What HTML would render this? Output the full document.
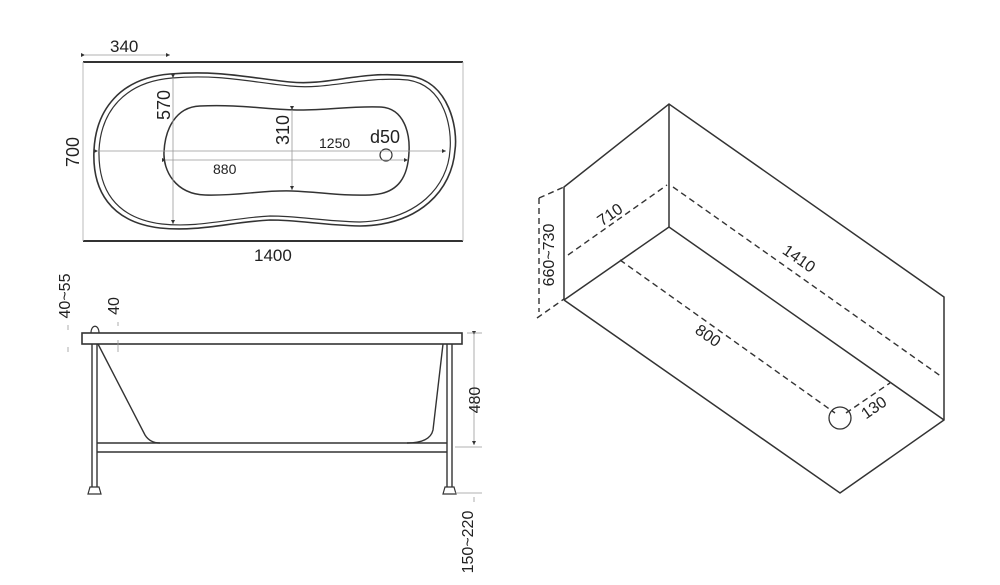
<!DOCTYPE html>
<html><head><style>
html,body{margin:0;padding:0;background:#fff;}
svg{display:block;}
text{font-family:"Liberation Sans",sans-serif;fill:#222;}
</style></head><body>
<svg width="1000" height="585" viewBox="0 0 1000 585" xmlns="http://www.w3.org/2000/svg">
<defs>
<marker id="a" markerWidth="6" markerHeight="6" refX="5" refY="3" orient="auto"><path d="M0,0.5 L5,3 L0,5.5z" fill="#333"/></marker>
</defs>
<g stroke="#333" fill="none">
<line x1="83" y1="62" x2="463" y2="62" stroke-width="2"/>
<line x1="83" y1="241" x2="463" y2="241" stroke-width="2"/>
<line x1="83" y1="62" x2="83" y2="241" stroke="#bbb"/>
<line x1="463" y1="62" x2="463" y2="241" stroke="#bbb"/>
<path d="M170,74 C220,70 250,78 290,82 C330,86 360,70 410,76 C450,82 458,130 455,150 C452,190 420,225 360,226 C320,225 300,220 270,220 C230,222 200,232 160,228 C110,222 92,190 94,150 C96,110 120,78 170,74Z" stroke-width="1.6"/>
<path d="M172,78 C220,74 250,82 290,86 C330,90 360,76 408,80 C446,86 452,130 450,150 C448,186 418,220 360,222 C320,221 300,216 270,216 C230,218 200,228 162,224 C114,218 98,188 99,150 C101,112 124,82 172,78Z" stroke-width="1.2"/>
<path d="M200,106 C240,104 270,110 300,110 C330,110 350,106 380,107 C405,108 410,135 409,152 C408,175 400,194 370,195 C340,196 320,192 292,191 C260,190 240,196 205,195 C175,194 163,170 164,152 C165,130 175,107 200,106Z" stroke-width="1.5"/>
<circle cx="386" cy="155" r="6" stroke-width="1.2"/>
<g stroke="#999" stroke-width="0.8">
<line x1="85" y1="55" x2="170" y2="55" marker-end="url(#a)" marker-start="url(#a)"/>
<line x1="173" y1="78" x2="173" y2="224" marker-end="url(#a)" marker-start="url(#a)"/>
<line x1="292" y1="110" x2="292" y2="190" marker-end="url(#a)" marker-start="url(#a)"/>
<line x1="98" y1="151" x2="446" y2="151" marker-end="url(#a)" marker-start="url(#a)"/>
<line x1="166" y1="160" x2="408" y2="160" marker-end="url(#a)" marker-start="url(#a)"/>
</g>
<rect x="82" y="333" width="380" height="11" stroke-width="1.6"/>
<path d="M91,333 C91,324 99,324 99,333" stroke-width="1.2"/>
<line x1="92" y1="344" x2="92" y2="487" stroke-width="1.4"/>
<line x1="97" y1="344" x2="97" y2="487" stroke-width="1.4"/>
<line x1="447" y1="344" x2="447" y2="487" stroke-width="1.4"/>
<line x1="452" y1="344" x2="452" y2="487" stroke-width="1.4"/>
<path d="M88,494 L90,487 L99,487 L101,494Z" stroke-width="1.2"/>
<path d="M443,494 L445,487 L454,487 L456,494Z" stroke-width="1.2"/>
<line x1="97" y1="443" x2="447" y2="443" stroke-width="1.4"/>
<line x1="97" y1="452" x2="447" y2="452" stroke-width="1.4"/>
<path d="M98,344 L145,435 Q150,443 160,443" stroke-width="1.4"/>
<path d="M443,344 L433,430 Q430,443 407,443" stroke-width="1.4"/>
<g stroke="#999" stroke-width="0.8">
<line x1="474" y1="335" x2="474" y2="445" marker-end="url(#a)" marker-start="url(#a)"/>
<line x1="467" y1="333" x2="482" y2="333"/><line x1="455" y1="447" x2="482" y2="447"/>
<line x1="455" y1="493" x2="482" y2="493"/>
<line x1="474" y1="497" x2="474" y2="502"/>
<line x1="68" y1="347" x2="68" y2="352"/>
<line x1="68" y1="325" x2="68" y2="330"/>
<line x1="118" y1="322" x2="118" y2="326"/>
<line x1="118" y1="340" x2="118" y2="352"/>
</g>
<g stroke-width="1.5">
<polyline points="564,300 564,187 669,104 944,297 944,420 840,493 564,300"/>
<line x1="669" y1="104" x2="669" y2="227"/>
<polyline points="564,300 669,227 944,420"/>
</g>
<g stroke-width="1.4" stroke-dasharray="6,4">
<line x1="539" y1="198" x2="539" y2="312"/>
<line x1="539" y1="198" x2="564" y2="187"/>
<line x1="537" y1="318" x2="564" y2="299"/>
<line x1="568" y1="255" x2="667" y2="185"/>
<line x1="673" y1="187" x2="942" y2="377"/>
<line x1="620" y1="260" x2="835" y2="413"/>
<line x1="846" y1="413" x2="890" y2="383"/>
</g>
<circle cx="840" cy="418" r="11" stroke-width="1.3"/>
</g>
<g font-size="17">
<text x="110" y="52">340</text>
<text x="254" y="261">1400</text>
<text x="79" y="152" transform="rotate(-90 79 152)" text-anchor="middle" font-size="18">700</text>
<text x="170" y="105" transform="rotate(-90 170 105)" text-anchor="middle" font-size="18">570</text>
<text x="289" y="130" transform="rotate(-90 289 130)" text-anchor="middle" font-size="18">310</text>
<text x="319" y="148" font-size="14">1250</text>
<text x="213" y="174" font-size="14">880</text>
<text x="370" y="143" font-size="18">d50</text>
<text x="70" y="296" transform="rotate(-90 70 296)" text-anchor="middle" font-size="16">40~55</text>
<text x="119" y="306" transform="rotate(-90 119 306)" text-anchor="middle" font-size="16">40</text>
<text x="480" y="400" transform="rotate(-90 480 400)" text-anchor="middle" font-size="16">480</text>
<text x="473" y="542" transform="rotate(-90 473 542)" text-anchor="middle" font-size="16">150~220</text>
<text x="554" y="255" transform="rotate(-90 554 255)" text-anchor="middle" font-size="16">660~730</text>
<text x="613" y="219" transform="rotate(-35 613 219)" text-anchor="middle" font-size="16">710</text>
<text x="796" y="263" transform="rotate(35 796 263)" text-anchor="middle" font-size="16">1410</text>
<text x="705" y="340" transform="rotate(35 705 340)" text-anchor="middle" font-size="16">800</text>
<text x="877" y="412" transform="rotate(-35 877 412)" text-anchor="middle" font-size="16">130</text>
</g>
</svg>
</body></html>
